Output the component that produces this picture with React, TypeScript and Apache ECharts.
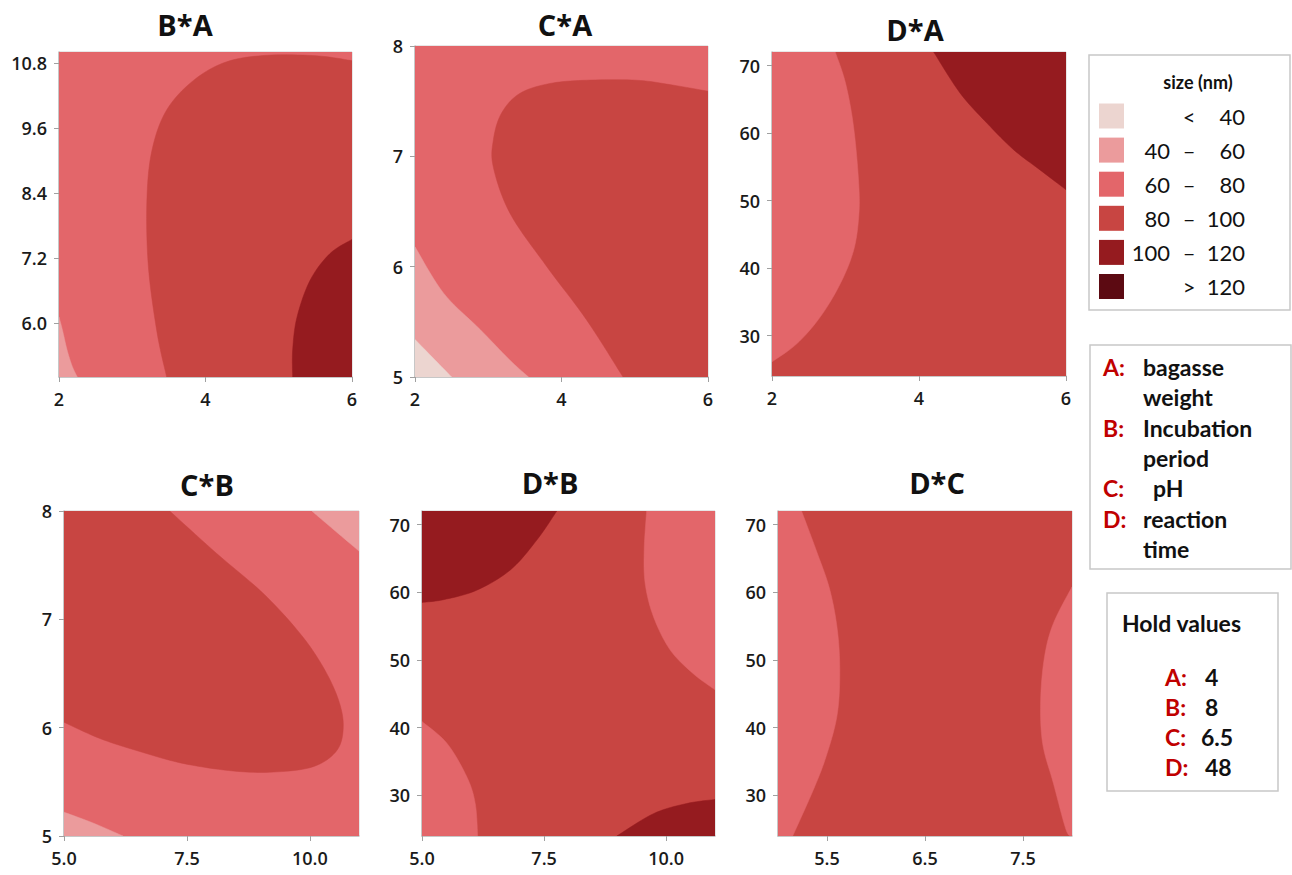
import React, { useEffect, useRef } from "react";
import * as echarts from "echarts";

// ---- contour level colours (size, nm) ----
const LEVEL_COLORS = ["#ecd5d0", "#eb9b9c", "#e3666a", "#c84542", "#951b1f", "#5c0a12"];
const LEGEND_LOW = ["", "40", "60", "80", "100", ""];
const LEGEND_SEP = ["<", "–", "–", "–", "–", ">"];
const LEGEND_HIGH = ["40", "60", "80", "100", "120", "120"];

// ---- panels ----
const PANEL_TITLES = ["B*A", "C*A", "D*A", "C*B", "D*B", "D*C"];
const X_RANGES = [[2, 6], [2, 6], [2, 6], [5, 11], [5, 11], [5, 8]];
const Y_RANGES = [[5, 11], [5, 8], [24, 72], [5, 8], [24, 72], [24, 72]];
const X_TICKS = [[2, 4, 6], [2, 4, 6], [2, 4, 6], [5, 7.5, 10], [5, 7.5, 10], [5.5, 6.5, 7.5]];
const Y_TICKS = [
  [6.0, 7.2, 8.4, 9.6, 10.8],
  [5, 6, 7, 8],
  [30, 40, 50, 60, 70],
  [5, 6, 7, 8],
  [30, 40, 50, 60, 70],
  [30, 40, 50, 60, 70],
];
const X_DECIMALS = [0, 0, 0, 1, 1, 1];
const Y_DECIMALS = [1, 0, 0, 0, 0, 0];

// contour regions: level index into LEVEL_COLORS,
// curve = contour boundary, close = plot corners closing the region
const BA_REGIONS = [
  { level: 2, curve: [], close: [[2, 5], [6, 5], [6, 11], [2, 11]] },
  { level: 1, curve: [[2, 6.11], [2.05, 5.85], [2.11, 5.5], [2.18, 5.2], [2.25, 5]], close: [[2, 5]] },
  { level: 3, curve: [[3.47, 5], [3.34, 5.81], [3.22, 7.04], [3.2, 8.27], [3.27, 9.19], [3.47, 9.93], [3.84, 10.48], [4.29, 10.82], [4.84, 10.94], [5.52, 10.93], [6, 10.84]], close: [[6, 5]] },
  { level: 4, curve: [[5.19, 5], [5.19, 5.5], [5.25, 6.11], [5.43, 6.79], [5.7, 7.28], [6, 7.54]], close: [[6, 5]] },
];
const CA_REGIONS = [
  { level: 2, curve: [], close: [[2, 5], [6, 5], [6, 8], [2, 8]] },
  { level: 1, curve: [[2, 6.18], [2.39, 5.76], [2.89, 5.43], [3.3, 5.15], [3.55, 5]], close: [[2, 5]] },
  { level: 0, curve: [[2, 5.34], [2.25, 5.17], [2.5, 5]], close: [[2, 5]] },
  { level: 3, curve: [[4.84, 5], [4.34, 5.52], [3.8, 6.0], [3.3, 6.48], [3.07, 6.9], [3.07, 7.15], [3.18, 7.39], [3.43, 7.57], [3.84, 7.66], [4.34, 7.69], [5.02, 7.69], [5.48, 7.65], [6, 7.59]], close: [[6, 5]] },
];
const DA_REGIONS = [
  { level: 3, curve: [], close: [[2, 24], [6, 24], [6, 72], [2, 72]] },
  { level: 2, curve: [[2.86, 72], [3.0, 67.4], [3.11, 60.9], [3.18, 52.5], [3.18, 47.6], [3.11, 42.6], [2.93, 37.7], [2.66, 32.8], [2.34, 28.8], [2, 26.1]], close: [[2, 72]] },
  { level: 4, curve: [[4.2, 72], [4.56, 65.9], [4.93, 61.4], [5.29, 57.5], [5.65, 54.5], [6, 51.6]], close: [[6, 72]] },
];
const CB_REGIONS = [
  { level: 2, curve: [], close: [[5, 5], [11, 5], [11, 8], [5, 8]] },
  { level: 1, curve: [[10.04, 8], [10.48, 7.83], [11, 7.63]], close: [[11, 8]] },
  { level: 1, curve: [[5, 5.22], [5.59, 5.12], [6.2, 5]], close: [[5, 5]] },
  { level: 3, curve: [[7.15, 8], [8.1, 7.61], [9.05, 7.24], [9.8, 6.87], [10.27, 6.56], [10.58, 6.26], [10.68, 6.01], [10.55, 5.79], [10.07, 5.64], [9.26, 5.59], [8.44, 5.6], [7.42, 5.67], [6.54, 5.78], [5.73, 5.9], [5, 6.05]], close: [[5, 8]] },
];
const DB_REGIONS = [
  { level: 3, curve: [], close: [[5, 24], [11, 24], [11, 72], [5, 72]] },
  { level: 4, curve: [[7.76, 72], [7.35, 67.7], [6.81, 63.3], [6.12, 60.3], [5.44, 58.9], [5, 58.5]], close: [[5, 72]] },
  { level: 2, curve: [[9.6, 72], [9.55, 66.3], [9.57, 61.3], [9.74, 56.4], [10.08, 51.5], [10.55, 48], [11, 45.6]], close: [[11, 72]] },
  { level: 2, curve: [[5, 40.9], [5.51, 37.7], [5.92, 32.7], [6.09, 28.8], [6.14, 24]], close: [[5, 24]] },
  { level: 4, curve: [[8.99, 24], [9.74, 27.3], [10.42, 28.8], [11, 29.4]], close: [[11, 24]] },
];
const DC_REGIONS = [
  { level: 3, curve: [], close: [[5, 24], [8, 24], [8, 72], [5, 72]] },
  { level: 2, curve: [[5.24, 72], [5.39, 66.2], [5.53, 60.3], [5.61, 53.9], [5.63, 47.5], [5.6, 41.6], [5.49, 35.7], [5.36, 30.8], [5.15, 24]], close: [[5, 24], [5, 72]] },
  { level: 2, curve: [[8, 60.8], [7.81, 55.4], [7.72, 50.5], [7.68, 44.1], [7.7, 37.7], [7.81, 31.8], [7.94, 24.9], [8, 24]], close: [] },
];
const PANEL_REGIONS = [BA_REGIONS, CA_REGIONS, DA_REGIONS, CB_REGIONS, DB_REGIONS, DC_REGIONS];

// factor legend
const FACTOR_KEYS = ["A:", "B:", "C:", "D:"];
const FACTOR_NAMES = [["bagasse", "weight"], ["Incubation", "period"], ["pH"], ["reaction", "time"]];
const HOLD_VALUES = ["4", "8", "6.5", "48"];

// ---- layout (pixels) ----
const GRIDS = [
  { left: 59, top: 52, width: 293, height: 325 },
  { left: 415, top: 46, width: 293, height: 331 },
  { left: 772, top: 52, width: 294, height: 324 },
  { left: 64, top: 511, width: 295, height: 325 },
  { left: 422, top: 511, width: 293, height: 325 },
  { left: 778, top: 511, width: 294, height: 325 },
];
const TITLE_POS = [[185, 24], [565, 24], [915, 29], [207, 484], [550, 482], [937, 482]];

const TICK_FONT = "'Open Sans', 'Noto Sans', sans-serif";
const LEG_FONT = "Lato, 'Open Sans', sans-serif";

// smooth pixel path through the contour points (Catmull-Rom, rendering only)
function smoothPath(pts: number[][]): number[][] {
  if (pts.length < 3) return pts;
  const out: number[][] = [];
  const n = pts.length;
  const steps = 10;
  for (let i = 0; i < n - 1; i++) {
    const p0 = pts[Math.max(0, i - 1)];
    const p1 = pts[i];
    const p2 = pts[i + 1];
    const p3 = pts[Math.min(n - 1, i + 2)];
    for (let s = 0; s < steps; s++) {
      const t = s / steps;
      const t2 = t * t;
      const t3 = t2 * t;
      const f = (a: number, b: number, c: number, d: number) =>
        0.5 * (2 * b + (-a + c) * t + (2 * a - 5 * b + 4 * c - d) * t2 + (-a + 3 * b - 3 * c + d) * t3);
      out.push([f(p0[0], p1[0], p2[0], p3[0]), f(p0[1], p1[1], p2[1], p3[1])]);
    }
  }
  out.push(pts[n - 1]);
  return out;
}

export default function App() {
  const ref = useRef<HTMLDivElement>(null);

  useEffect(() => {
    if (!ref.current) return;
    const chart = echarts.init(ref.current, undefined, { renderer: "svg" });

    const grid = GRIDS.map((g) => ({
      ...g,
      show: true,
      borderColor: "#cfcfcf",
      borderWidth: 1,
      backgroundColor: "transparent",
    }));

    const xAxis = X_RANGES.map((r, i) => ({
      type: "value",
      gridIndex: i,
      min: r[0],
      max: r[1],
      splitLine: { show: false },
      axisLine: { show: true, onZero: false, lineStyle: { color: "#bdbdbd", width: 1.5 } },
      axisTick: { show: true, length: 5, customValues: X_TICKS[i], lineStyle: { color: "#a0a0a0" } },
      axisLabel: {
        customValues: X_TICKS[i],
        formatter: (v: number) => v.toFixed(X_DECIMALS[i]),
        color: "#1a1a1a",
        fontSize: 18,
        fontWeight: 600,
        fontFamily: TICK_FONT,
        margin: 13,
      },
    }));

    const yAxis = Y_RANGES.map((r, i) => ({
      type: "value",
      gridIndex: i,
      min: r[0],
      max: r[1],
      splitLine: { show: false },
      axisLine: { show: true, onZero: false, lineStyle: { color: "#bdbdbd", width: 1.5 } },
      axisTick: { show: true, length: 5, customValues: Y_TICKS[i], lineStyle: { color: "#a0a0a0" } },
      axisLabel: {
        customValues: Y_TICKS[i],
        formatter: (v: number) => v.toFixed(Y_DECIMALS[i]),
        color: "#1a1a1a",
        fontSize: 18,
        fontWeight: 600,
        fontFamily: TICK_FONT,
        margin: 12,
      },
    }));

    const series = PANEL_REGIONS.map((regions, i) => ({
      type: "custom",
      xAxisIndex: i,
      yAxisIndex: i,
      clip: true,
      silent: true,
      data: regions.map((r) => r.close[0] || r.curve[0]),
      renderItem: (params: any, api: any) => {
        const reg = regions[params.dataIndex];
        const curvePx = smoothPath(reg.curve.map((p) => api.coord(p)));
        const closePx = reg.close.map((p) => api.coord(p));
        const points = curvePx.concat(closePx);
        const c = LEVEL_COLORS[reg.level];
        return {
          type: "polygon",
          shape: { points },
          style: { fill: c, stroke: c, lineWidth: 0.5 },
        };
      },
    }));

    const graphic: any[] = [];
    PANEL_TITLES.forEach((t, i) => {
      graphic.push({
        type: "text",
        x: TITLE_POS[i][0],
        y: TITLE_POS[i][1],
        style: {
          text: t,
          fill: "#111",
          font: `bold 29px ${TICK_FONT}`,
          align: "center",
          verticalAlign: "middle",
        },
      });
    });

    // size legend box
    graphic.push({
      type: "rect",
      shape: { x: 1089, y: 55, width: 201, height: 255 },
      style: { fill: "#fff", stroke: "#c8c8c8", lineWidth: 1.5 },
    });
    graphic.push({
      type: "text",
      x: 1198,
      y: 82,
      style: { text: "size (nm)", fill: "#111", font: `bold 18px ${LEG_FONT}`, align: "center", verticalAlign: "middle" },
    });
    LEVEL_COLORS.forEach((c, i) => {
      const cy = 116 + i * 34.1;
      graphic.push({
        type: "rect",
        shape: { x: 1099, y: cy - 12.5, width: 25, height: 25 },
        style: { fill: c },
      });
      if (LEGEND_LOW[i]) {
        graphic.push({
          type: "text",
          x: 1170,
          y: cy,
          style: { text: LEGEND_LOW[i], fill: "#111", font: `22px ${LEG_FONT}`, align: "right", verticalAlign: "middle" },
        });
      }
      graphic.push({
        type: "text",
        x: 1189,
        y: cy,
        style: { text: LEGEND_SEP[i], fill: "#111", font: `22px ${LEG_FONT}`, align: "center", verticalAlign: "middle" },
      });
      graphic.push({
        type: "text",
        x: 1245,
        y: cy,
        style: { text: LEGEND_HIGH[i], fill: "#111", font: `22px ${LEG_FONT}`, align: "right", verticalAlign: "middle" },
      });
    });

    // factor definitions box
    graphic.push({
      type: "rect",
      shape: { x: 1090, y: 345, width: 201, height: 224 },
      style: { fill: "#fff", stroke: "#c8c8c8", lineWidth: 1.5 },
    });
    let line = 0;
    FACTOR_KEYS.forEach((k, i) => {
      FACTOR_NAMES[i].forEach((name, j) => {
        const cy = 367 + line * 30.3;
        if (j === 0) {
          graphic.push({
            type: "text",
            x: 1103,
            y: cy,
            style: { text: k, fill: "#c00000", font: `bold 23px ${LEG_FONT}`, align: "left", verticalAlign: "middle" },
          });
        }
        graphic.push({
          type: "text",
          x: name === "pH" ? 1153 : 1143,
          y: cy,
          style: { text: name, fill: "#111", font: `bold 23px ${LEG_FONT}`, align: "left", verticalAlign: "middle" },
        });
        line++;
      });
    });

    // hold values box
    graphic.push({
      type: "rect",
      shape: { x: 1107, y: 593, width: 171, height: 198 },
      style: { fill: "#fff", stroke: "#c8c8c8", lineWidth: 1.5 },
    });
    graphic.push({
      type: "text",
      x: 1122,
      y: 623,
      style: { text: "Hold values", fill: "#111", font: `bold 23px ${LEG_FONT}`, align: "left", verticalAlign: "middle" },
    });
    FACTOR_KEYS.forEach((k, i) => {
      const cy = 677 + i * 30.1;
      graphic.push({
        type: "text",
        x: 1165,
        y: cy,
        style: { text: k, fill: "#c00000", font: `bold 23px ${LEG_FONT}`, align: "left", verticalAlign: "middle" },
      });
      graphic.push({
        type: "text",
        x: HOLD_VALUES[i].length > 2 ? 1201 : 1205,
        y: cy,
        style: { text: HOLD_VALUES[i], fill: "#111", font: `bold 23px ${LEG_FONT}`, align: "left", verticalAlign: "middle" },
      });
    });

    chart.setOption({
      animation: false,
      backgroundColor: "#ffffff",
      grid,
      xAxis,
      yAxis,
      series,
      graphic,
    });

    return () => chart.dispose();
  }, []);

  return (
    <div
      ref={ref}
      style={{ position: "fixed", left: 0, top: 0, width: 1292, height: 875, background: "#fff" }}
    />
  );
}
